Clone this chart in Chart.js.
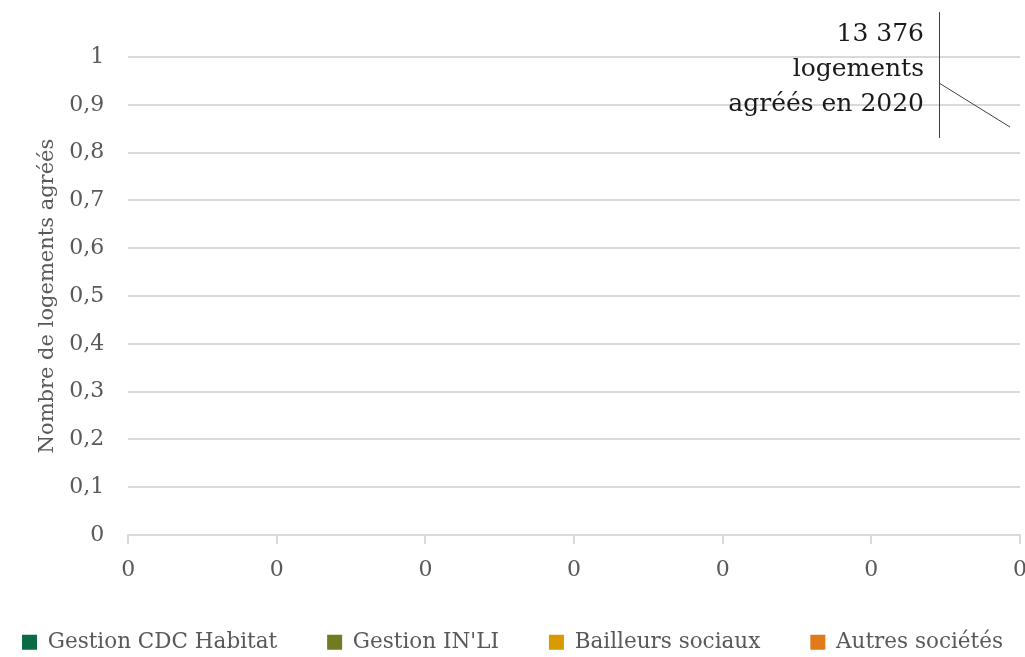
<!DOCTYPE html>
<html>
<head>
<meta charset="utf-8">
<script src="https://cdn.jsdelivr.net/npm/chart.js@4/dist/chart.umd.min.js"></script>
<style>
  html, body { margin: 0; padding: 0; background: #fff; }
  #wrap { width: 1025px; height: 657px; }
</style>
</head>
<body>
<div id="wrap"><canvas id="myChart" width="1025" height="657"></canvas></div>
<script>
// categories (all shown as "0" on the reference)
var categories = ['0', '0', '0', '0', '0', '0', '0'];
var seriesNames = ['Gestion CDC Habitat', "Gestion IN'LI", 'Bailleurs sociaux', 'Autres sociétés'];
var seriesColors = ['#0b6b45', '#727b22', '#d99a00', '#e07a1a'];
// no values are drawn in the reference
var cdcHabitat = [0, 0, 0, 0, 0, 0, 0];
var inli = [0, 0, 0, 0, 0, 0, 0];
var bailleurs = [0, 0, 0, 0, 0, 0, 0];
var autres = [0, 0, 0, 0, 0, 0, 0];
var annotationLines = ['13 376', 'logements', 'agréés en 2020'];

var seriesValues = [cdcHabitat, inli, bailleurs, autres];
var gridColor = '#d9d9d9';
var textColor = '#595959';
var fontFamily = '"DejaVu Serif", serif';

var calloutPlugin = {
  id: 'callout',
  afterDraw: function(chart) {
    var c = chart.ctx;
    var area = chart.chartArea;
    var lineX = area.right - 81;
    c.save();
    c.font = '25px ' + fontFamily;
    c.fillStyle = '#1a1a1a';
    c.textAlign = 'right';
    c.textBaseline = 'middle';
    annotationLines.forEach(function(t, i) {
      c.fillText(t, lineX - 15, area.top - 23 + i * 35);
    });
    c.strokeStyle = '#404040';
    c.lineWidth = 1;
    c.beginPath();
    c.moveTo(lineX + 0.5, area.top - 45);
    c.lineTo(lineX + 0.5, area.top + 81);
    c.moveTo(lineX, area.top + 26);
    c.lineTo(area.right - 10, area.top + 70);
    c.stroke();
    c.restore();
  }
};

var ctx = document.getElementById('myChart');
var myChart = new Chart(ctx, {
  type: 'bar',
  data: {
    labels: categories,
    datasets: seriesNames.map(function(name, i) {
      return {
        label: name,
        data: seriesValues[i],
        backgroundColor: seriesColors[i],
        borderWidth: 0
      };
    })
  },
  options: {
    responsive: false,
    animation: false,
    // negative sides give the legend row more room, scales pull back in
    layout: { padding: { top: 57, left: -30, right: -30, bottom: -6 } },
    plugins: {
      legend: {
        position: 'bottom',
        labels: {
          font: { family: fontFamily, size: 21.5 },
          color: textColor,
          boxWidth: 15,
          boxHeight: 15,
          padding: 50
        }
      },
      tooltip: { enabled: false }
    },
    scales: {
      x: {
        stacked: true,
        offset: false,
        afterFit: function(scale) {
          // let the last label run off the edge, as in the reference
          scale.paddingLeft = 0;
          scale.paddingRight = 5;
          scale.height -= 15;
        },
        grid: {
          offset: false,
          drawOnChartArea: false,
          drawTicks: true,
          tickLength: 9,
          color: gridColor,
          lineWidth: 2
        },
        border: { color: gridColor, width: 2 },
        ticks: {
          autoSkip: false,
          maxRotation: 0,
          padding: 13,
          color: textColor,
          font: { family: fontFamily, size: 22 }
        }
      },
      y: {
        stacked: true,
        min: 0,
        max: 1,
        ticks: {
          stepSize: 0.1,
          padding: 24,
          color: textColor,
          font: { family: fontFamily, size: 22 },
          callback: function(v) { return (Math.round(v * 10) / 10).toString().replace('.', ','); }
        },
        grid: { color: gridColor, lineWidth: 2, drawTicks: false },
        border: { display: false },
        title: {
          display: true,
          text: 'Nombre de logements agréés',
          color: textColor,
          font: { family: fontFamily, size: 21 },
          padding: { top: 65, bottom: -15 }
        }
      }
    }
  },
  plugins: [calloutPlugin]
});
</script>
</body>
</html>
